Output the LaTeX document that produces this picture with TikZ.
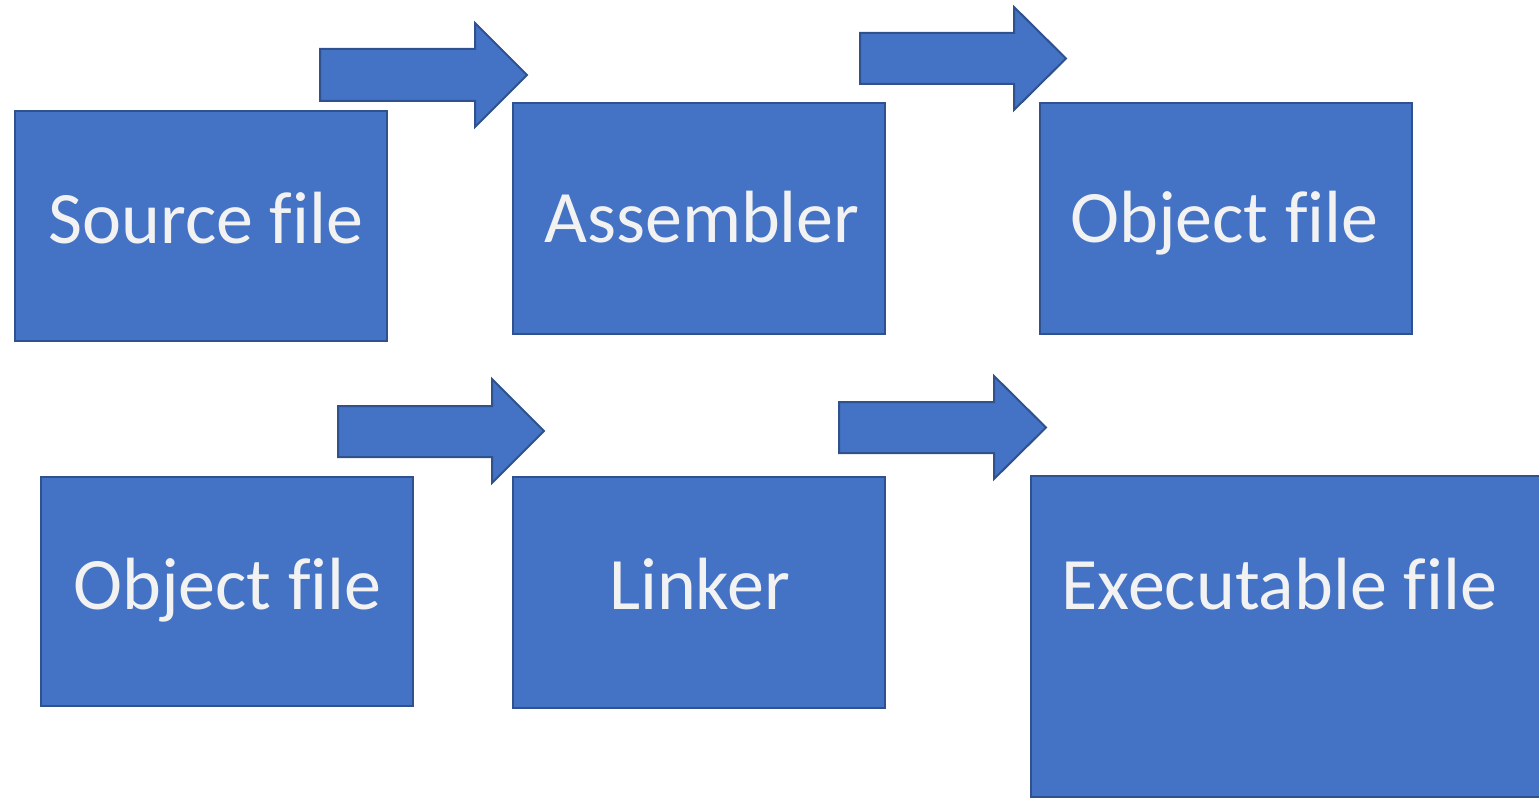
\documentclass[tikz,border=0pt]{standalone}
\usepackage{fontspec}
\setmainfont{Carlito}[Ligatures=CommonOff]
\definecolor{boxfill}{HTML}{4472C4}
\definecolor{boxline}{HTML}{2F528F}
\definecolor{txt}{HTML}{F2F2F2}
\newcommand{\fil}{f\kern0pt ile}
\begin{document}
\begin{tikzpicture}[x=1pt,y=-1pt,
  box/.style={draw=boxline,fill=boxfill,line width=2pt,inner sep=0pt},
  lbl/.style={anchor=base,text=txt,inner sep=0pt,font=\fontsize{74}{89}\selectfont},
  blockarrow/.style={draw=boxline,fill=boxfill,line width=2pt,line join=miter}]
\useasboundingbox (0,0) rectangle (1539,799);
\clip (0,0) rectangle (1539,799);
% boxes
\path[box] (15,111) rectangle (387,341);
\node[lbl] (src) at (206,244) {Source \fil};
\path[box] (513,103) rectangle (885,334);
\node[lbl] (asm) at (702,243) {Assembler};
\path[box] (1040,103) rectangle (1412,334);
\node[lbl] (obj1) at (1224.5,243) {Object \fil};
\path[box] (41,477) rectangle (413,706);
\node[lbl] (obj2) at (227.5,609) {Object \fil};
\path[box] (513,477) rectangle (885,708);
\node[lbl] (lnk) at (699.5,609) {Linker};
\path[box] (1031,476) rectangle (1560,797);
\node[lbl] (exe) at (1279.5,609) {Executable \fil};
% block arrows
\path[blockarrow] (320,49) -- (475,49) -- (475,23) -- (527,75) -- (475,127) -- (475,101) -- (320,101) -- cycle;
\path[blockarrow] (860,33) -- (1014,33) -- (1014,7) -- (1066,58.5) -- (1014,110) -- (1014,84) -- (860,84) -- cycle;
\path[blockarrow] (338,406) -- (492,406) -- (492,379) -- (544,431) -- (492,483) -- (492,457) -- (338,457) -- cycle;
\path[blockarrow] (839,402) -- (994,402) -- (994,376) -- (1046,427.5) -- (994,479) -- (994,453) -- (839,453) -- cycle;
\end{tikzpicture}
\end{document}
